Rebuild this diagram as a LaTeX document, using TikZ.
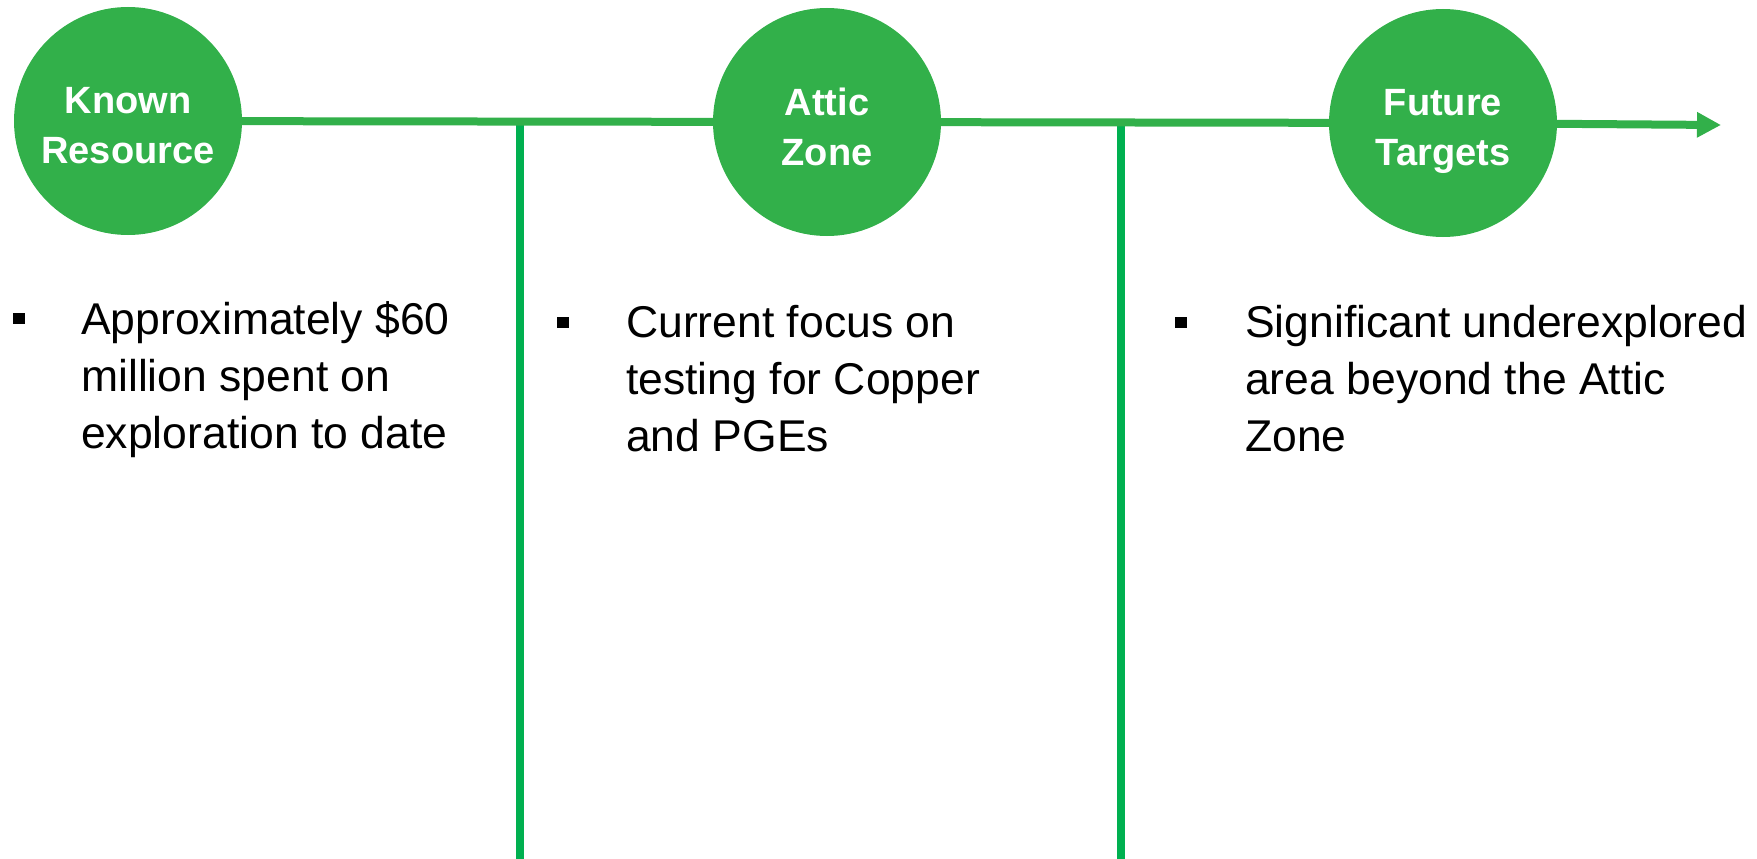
\documentclass[tikz,border=0pt]{standalone}
\usepackage{fontspec}
\setmainfont{Liberation Sans}
\usetikzlibrary{arrows.meta,positioning}
\definecolor{circlegreen}{RGB}{50,176,74}
\definecolor{linegreen}{RGB}{0,176,80}
\newcommand{\bodyfont}{\fontsize{44.5}{57}\selectfont}
\newcommand{\circlefont}{\fontsize{38}{50}\selectfont\bfseries}

\begin{document}
\begin{tikzpicture}[x=1pt,y=-1pt,
    stage/.style={circle, fill=circlegreen, minimum size=228pt, inner sep=0pt},
    stagetext/.style={align=center, text=white, font=\circlefont, text depth=0pt, yshift=-4.5pt},
    timeline/.style={circlegreen, line width=8pt},
    divider/.style={linegreen, line width=8pt},
    bulletmark/.style={fill=black, minimum width=12.5pt, minimum height=11pt, inner sep=0pt},
    bullettext/.style={anchor=base west, inner sep=0pt, font=\bodyfont}]
    \useasboundingbox (0,0) rectangle (1757,859);

    % Dividers
    \coordinate (d1top) at (520,124);
    \coordinate (d1bot) at (520,859);
    \coordinate (d2top) at (1121,125);
    \coordinate (d2bot) at (1121,859);
    \draw[divider] (d1top) -- (d1bot);
    \draw[divider] (d2top) -- (d2bot);

    % Stages
    \node[stage, label={[stagetext]center:{Known\\Resource}}] (known) at (128,121) {};
    \node[stage, label={[stagetext]center:{Attic\\Zone}}] (attic) at (827,122) {};
    \node[stage, label={[stagetext]center:{Future\\Targets}}] (future) at (1443,123) {};
    \coordinate (tip) at (1721,125);

    % Timeline
    \draw[timeline] (known) -- (attic);
    \draw[timeline] (attic) -- (future);
    \draw[timeline, -{Triangle[length=24pt,width=24pt]}] (future) -- (tip);

    % Notes
    \node[bulletmark] (m1) at (19,318) {};
    \node[bullettext] (t1) at (81,334) {\parbox[t]{440pt}{Approximately \$60\\million spent on\\exploration to date}};

    \node[bulletmark] (m2) at (563,322) {};
    \node[bullettext] (t2) at (626,337) {\parbox[t]{440pt}{Current focus on\\testing for Copper\\and PGEs}};

    \node[bulletmark] (m3) at (1181,322) {};
    \node[bullettext] (t3) at (1245,337) {\parbox[t]{520pt}{Significant underexplored\\area beyond the Attic\\Zone}};
\end{tikzpicture}
\end{document}
